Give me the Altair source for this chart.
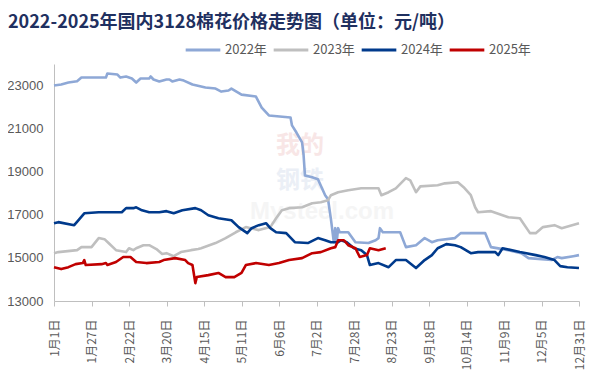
import json
import altair as alt
import pandas as pd

# ---------------- data ----------------
series_names = ["2022年", "2023年", "2024年", "2025年"]
series_colors = ["#8EA8D6", "#BFBFBF", "#003A8C", "#C00000"]

tick_days = [0, 26, 52, 78, 104, 130, 156, 182, 208, 234, 260, 286, 312, 338, 364]
tick_labels = ["1月1日", "1月27日", "2月22日", "3月20日", "4月15日", "5月11日", "6月6日",
               "7月2日", "7月28日", "8月23日", "9月18日", "10月14日", "11月9日", "12月5日", "12月31日"]
y_ticks = [13000, 15000, 17000, 19000, 21000, 23000]

days_2022 = [0, 5, 10, 16, 19, 36, 37, 44, 46, 50, 54, 57, 60, 66, 67, 69, 73, 78, 80, 82,
             87, 90, 96, 105, 112, 116, 121, 123, 130, 140, 144, 149, 164, 165, 168, 172, 173, 174, 179, 183,
             188, 190, 192, 194, 195, 196, 197, 198, 204, 209, 218, 223, 225, 226, 228, 240, 244, 251, 257, 262,
             266, 278, 282, 299, 303, 315, 324, 329, 345, 349, 352, 360, 364]
price_2022 = [23000, 23050, 23140, 23200, 23370, 23370, 23560, 23510, 23370, 23420, 23330, 23140, 23330, 23330, 23420, 23280, 23190, 23280, 23280, 23190,
              23280, 23230, 23050, 22910, 22860, 22720, 22770, 22860, 22580, 22490, 21980, 21610, 21520, 21150, 20830, 20360, 19810, 18830, 18740, 18650,
              17910, 17720, 16800, 15730, 16380, 15730, 16380, 16190, 16190, 15730, 15690, 15820, 15920, 16380, 16190, 16190, 15500, 15590, 15920, 15730,
              15820, 15920, 16150, 16150, 15500, 15360, 15220, 14990, 14900, 15040, 14990, 15080, 15130]

days_2023 = [0, 3, 16, 19, 26, 31, 35, 38, 43, 50, 52, 55, 57, 62, 66, 71, 75, 78, 83, 88,
             95, 100, 102, 112, 119, 126, 133, 142, 150, 154, 158, 163, 172, 179, 185, 190, 192, 197, 204, 213,
             225, 227, 232, 237, 244, 247, 251, 254, 266, 271, 280, 284, 289, 292, 294, 303, 315, 323, 330, 334,
             339, 347, 352, 364]
price_2023 = [15220, 15270, 15360, 15500, 15500, 15920, 15870, 15680, 15360, 15270, 15450, 15360, 15450, 15590, 15590, 15410, 15180, 15220, 15080, 15270,
              15360, 15410, 15450, 15690, 15920, 16190, 16430, 16290, 16430, 16840, 17210, 17310, 17350, 17540, 17580, 17680, 17910, 18050, 18140, 18230,
              18230, 17910, 18050, 18230, 18700, 18600, 18050, 18320, 18370, 18460, 18510, 18280, 17910, 17350, 17120, 17170, 16890, 16840, 16150, 16150,
              16430, 16520, 16380, 16610]

days_2024 = [0, 3, 14, 17, 21, 31, 47, 50, 55, 57, 61, 66, 73, 78, 83, 89, 98, 102, 107, 114,
             123, 128, 134, 137, 142, 147, 150, 154, 161, 167, 176, 183, 188, 192, 197, 199, 203, 208, 213, 217,
             219, 225, 232, 237, 244, 251, 257, 262, 266, 272, 278, 282, 289, 294, 306, 308, 311, 323, 334, 340,
             347, 351, 356, 364]
price_2024 = [16610, 16660, 16520, 16750, 17070, 17120, 17120, 17310, 17310, 17350, 17210, 17120, 17120, 17170, 17070, 17210, 17310, 17210, 16980, 16840,
              16750, 16430, 16150, 16380, 16520, 16610, 16380, 16190, 16150, 15730, 15690, 15920, 15820, 15730, 15730, 15820, 15730, 15450, 15360, 15130,
              14670, 14760, 14570, 14900, 14900, 14530, 14900, 15130, 15450, 15640, 15590, 15500, 15220, 15270, 15270, 15130, 15450, 15270, 15130, 15040,
              14900, 14620, 14570, 14530]

days_2025 = [0, 5, 10, 15, 20, 21, 22, 33, 36, 37, 43, 48, 53, 57, 64, 73, 76, 84, 91, 93,
             96, 98, 99, 107, 114, 119, 125, 130, 133, 140, 149, 156, 163, 172, 179, 185, 192, 195, 197, 201,
             204, 209, 212, 217, 219, 225, 230]
price_2025 = [14570, 14480, 14570, 14710, 14760, 14900, 14670, 14710, 14760, 14670, 14810, 15040, 15040, 14810, 14760, 14810, 14900, 14990, 14900, 14760,
              14670, 13830, 14110, 14200, 14300, 14110, 14110, 14300, 14670, 14760, 14670, 14760, 14900, 14990, 15220, 15270, 15450, 15500, 15820, 15820,
              15590, 15450, 15040, 15130, 15450, 15360, 15450]

# ---------------- table ----------------
rows = []
for name, ds, vs in zip(series_names,
                        [days_2022, days_2023, days_2024, days_2025],
                        [price_2022, price_2023, price_2024, price_2025]):
    for d, v in zip(ds, vs):
        rows.append({"year": name, "day": d, "price": v})
df = pd.DataFrame(rows)

label_expr = json.dumps(tick_labels, ensure_ascii=False) + "[round(datum.value / 26)]"

GRAY = "#BFBFBF"
TXT = "#595959"

lines = alt.Chart(df).mark_line(strokeWidth=2.6, strokeJoin="round").encode(
    x=alt.X("day:Q",
            scale=alt.Scale(domain=[0, 364], nice=False, zero=False),
            axis=alt.Axis(values=tick_days, labelExpr=label_expr, labelAngle=-90,
                          title=None, grid=False, domainColor=GRAY, tickColor=GRAY,
                          tickSize=5, labelPadding=13, labelColor=TXT,
                          labelFont="Noto Sans CJK SC", labelFontSize=12)),
    y=alt.Y("price:Q",
            scale=alt.Scale(domain=[13000, 24000], nice=False, zero=False),
            axis=alt.Axis(values=y_ticks, format="d", title=None, grid=False,
                          domainColor=GRAY, ticks=False, labelPadding=11,
                          labelColor=TXT, labelFont="Liberation Sans", labelFontSize=13)),
    color=alt.Color("year:N",
                    scale=alt.Scale(domain=series_names, range=series_colors),
                    legend=alt.Legend(title=None, orient="none", legendX=130, legendY=-33,
                                      direction="horizontal", symbolType="stroke",
                                      symbolSize=1200, symbolStrokeWidth=3,
                                      labelColor=TXT, labelFontSize=13,
                                      labelFont="Noto Sans CJK SC", columnPadding=0,
                                      symbolOffset=0, labelOffset=3)),
    order=alt.Order("day:Q"),
)

wm1 = alt.Chart(pd.DataFrame({"t": ["我的"]})).mark_text(
    fontSize=24, font="Noto Sans CJK SC", fontWeight="bold", color="#F8E6E6"
).encode(x=alt.value(246), y=alt.value(82), text="t:N")
wm2 = alt.Chart(pd.DataFrame({"t": ["钢铁"]})).mark_text(
    fontSize=24, font="Noto Sans CJK SC", fontWeight="bold", color="#EBEFF6"
).encode(x=alt.value(246), y=alt.value(117), text="t:N")
wm3 = alt.Chart(pd.DataFrame({"t": ["Mysteel.com"]})).mark_text(
    fontSize=24, font="Liberation Sans", fontWeight="bold", color="#F5F5F5"
).encode(x=alt.value(268), y=alt.value(148), text="t:N")

chart = alt.layer(wm1, wm2, wm3, lines).properties(
    width=525, height=237,
    autosize=alt.AutoSizeParams(type="none"),
    padding={"left": 46, "top": 56, "right": 7, "bottom": 81},
    title=alt.TitleParams("2022-2025年国内3128棉花价格走势图（单位：元/吨）",
                          anchor="start", frame="group", dx=-46, dy=22, offset=7,
                          baseline="alphabetic", font="Noto Sans CJK SC",
                          fontSize=18, fontWeight="bold", color="#1F3060"),
).configure_view(stroke=None)

chart.save("out.html", embed_options={"renderer": "svg", "actions": False})
